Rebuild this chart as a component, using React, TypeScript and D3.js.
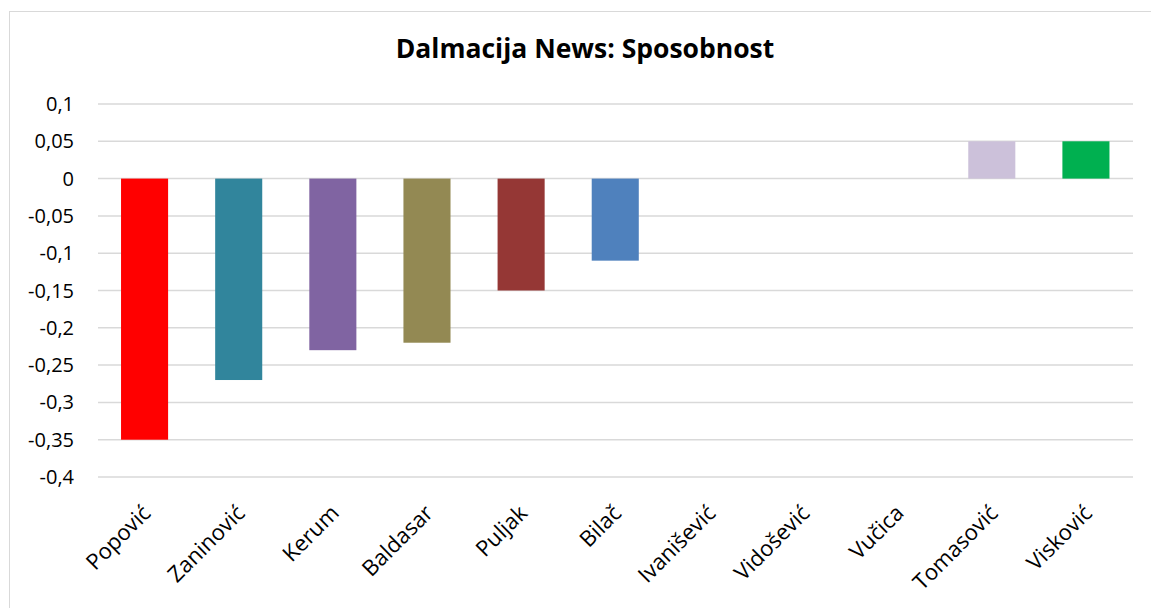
import React from "react";
import * as d3 from "d3";

const title = "Dalmacija News: Sposobnost";
const categories = ["Popović", "Zaninović", "Kerum", "Baldasar", "Puljak", "Bilač", "Ivanišević", "Vidošević", "Vučica", "Tomasović", "Visković"];
const values = [-0.35, -0.27, -0.23, -0.22, -0.15, -0.11, 0, 0, 0, 0.05, 0.05];
const colors = ["#FF0000", "#31859C", "#8064A2", "#938953", "#953735", "#4F81BD", "#4F81BD", "#4F81BD", "#4F81BD", "#CCC1DA", "#00B050"];
const yTicks = [0.1, 0.05, 0, -0.05, -0.1, -0.15, -0.2, -0.25, -0.3, -0.35, -0.4];

const W = 1151;
const H = 608;
const FONT = "'Open Sans', 'Noto Sans', sans-serif";

export default function App() {
  const x = d3.scaleBand<string>().domain(categories).range([97.5, 1133]).paddingInner(0.5).paddingOuter(0.25);
  const y = d3.scaleLinear().domain([-0.4, 0.1]).range([477, 104]);
  const fmt = (v: number) => {
    const r = Math.round(v * 100) / 100;
    return String(r).replace(".", ",");
  };
  return (
    <svg width={W} height={H} style={{ position: "absolute", left: 0, top: 0, background: "#fff" }}>
      <rect x={9.5} y={11.5} width={W + 10} height={H + 10} fill="#fff" stroke="#d9d9d9" strokeWidth={1} />
      <text x={585} y={58} textAnchor="middle" fontFamily={FONT} fontWeight="bold" fontSize={26.5} fill="#000">
        {title}
      </text>
      {yTicks.map((t) => (
        <g key={t}>
          <line x1={98} x2={1133} y1={y(t)} y2={y(t)} stroke="#d9d9d9" strokeWidth={1.5} />
          <text x={74} y={y(t)} dy="0.35em" textAnchor="end" fontFamily={FONT} fontSize={20} fill="#000">
            {fmt(t)}
          </text>
        </g>
      ))}
      {categories.map((c, i) =>
        values[i] !== 0 ? (
          <rect
            key={c}
            x={x(c)}
            width={x.bandwidth()}
            y={Math.min(y(values[i]), y(0))}
            height={Math.abs(y(values[i]) - y(0))}
            fill={colors[i]}
          />
        ) : null
      )}
      {categories.map((c) => {
        const cx = (x(c) as number) + x.bandwidth() / 2 + 2;
        const cy = 509;
        return (
          <text
            key={c}
            transform={`translate(${cx},${cy}) rotate(-45)`}
            textAnchor="end"
            dy="0.35em"
            fontFamily={FONT}
            fontSize={22}
            fill="#000"
          >
            {c}
          </text>
        );
      })}
    </svg>
  );
}
